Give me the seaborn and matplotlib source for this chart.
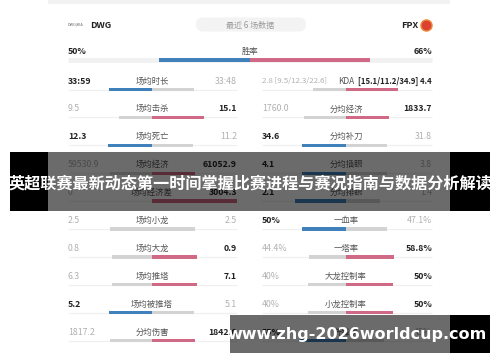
import numpy as np
import pandas as pd
import matplotlib
matplotlib.use("Agg")
import matplotlib.pyplot as plt
from matplotlib.patches import Rectangle, FancyBboxPatch
import seaborn as sns

# ---------------- data ----------------
team_a = "DWG"
team_b = "FPX"
header_text = "最近 6 场数据"
winrate_label = "胜率"
winrate_a = 50
winrate_b = 66

left_labels = ["场均时长", "场均击杀", "场均死亡", "场均经济", "场均经济差",
               "场均小龙", "场均大龙", "场均推塔", "场均被推塔", "分均伤害"]
left_a_text = ["33:59", "9.5", "12.3", "59530.9", "0", "2.5", "0.8", "6.3", "5.2", "1817.2"]
left_b_text = ["33:48", "15.1", "11.2", "61052.9", "3004.3", "2.5", "0.9", "7.1", "5.1", "1842.0"]
left_a_val = [33.98, 9.5, 12.3, 59530.9, 0.0, 2.5, 0.8, 6.3, 5.2, 1817.2]
left_b_val = [33.80, 15.1, 11.2, 61052.9, 3004.3, 2.5, 0.9, 7.1, 5.1, 1842.0]

right_labels = ["KDA", "分均经济", "分均补刀", "分均插眼", "分均排眼",
                "一血率", "一塔率", "大龙控制率", "小龙控制率", "先锋率"]
right_a_text = ["2.8 [9.5/12.3/22.6]", "1760.0", "34.6", "4.1", "2.1",
                "50%", "44.4%", "40%", "40%", "55%"]
right_b_text = ["[15.1/11.2/34.9] 4.4", "1833.7", "31.8", "3.8", "1.4",
                "47.1%", "58.8%", "50%", "50%", "45%"]
right_a_val = [2.8, 1760.0, 34.6, 4.1, 2.1, 50, 44.4, 40, 40, 55]
right_b_val = [4.4, 1833.7, 31.8, 3.8, 1.4, 47.1, 58.8, 50, 50, 45]

title_text = "英超联赛最新动态第一时间掌握比赛进程与赛况指南与数据分析解读"
watermark_text = "www.zhg-2026worldcup.com"

# ---------------- style ----------------
sns.set_theme(style="white")
plt.rcParams["font.family"] = ["Noto Sans CJK SC", "DejaVu Sans"]

BLUE = "#2b82cf"
PINK = "#e0587d"
GRAY = "#d3d3d3"
WIN_TXT = "#222222"
LOSE_TXT = "#b0b0b0"
LBL_TXT = "#555555"
palette = {"a": BLUE, "b": PINK, "lose": GRAY}

W, H = 500, 362
fig = plt.figure(figsize=(W / 100, H / 100), dpi=100)
ax = fig.add_axes([0, 0, 1, 1])

ROW0 = 81.0
PITCH = 27.9
BAR_OFF = 8.5
HALF_TOTAL = 85.0
BAR_H = 3.4
n = len(left_labels)
text_y = [ROW0 + PITCH * i for i in range(n)]
bar_y = [t + BAR_OFF for t in text_y]

columns = [
    dict(center=152, x0=68, x1=237, labels=left_labels, at=left_a_text, bt=left_b_text,
         av=left_a_val, bv=left_b_val),
    dict(center=346, x0=262, x1=432, labels=right_labels, at=right_a_text, bt=right_b_text,
         av=right_a_val, bv=right_b_val),
]

# separator lines
for col in columns:
    ax.hlines(bar_y, col["x0"], col["x1"], color="#f0f0f0", lw=0.9, zorder=1)

# bars via seaborn
for col in columns:
    av = np.array(col["av"], float)
    bv = np.array(col["bv"], float)
    tot = av + bv
    la = HALF_TOTAL * av / tot
    lb = HALF_TOTAL * bv / tot
    ka = np.where(av > bv, "a", "lose")
    kb = np.where(bv > av, "b", "lose")
    dfa = pd.DataFrame({"y": bar_y, "w": -la, "k": ka})
    dfb = pd.DataFrame({"y": bar_y, "w": lb, "k": kb})
    for df in (dfa, dfb):
        df = df[df["w"].abs() > 0]
        sns.barplot(data=df, x="w", y="y", hue="k", palette=palette, orient="y",
                    native_scale=True, dodge=False, errorbar=None, legend=False,
                    width=BAR_H / PITCH, left=col["center"], linewidth=0, ax=ax,
                    zorder=2)

# win-rate bar
ax.hlines(60, 68, 432, color="#f1f1f1", lw=3.5, zorder=1)
wr_tot = winrate_a + winrate_b
wr_df = pd.DataFrame({"y": [60.0, 60.0],
                      "w": [-211 * winrate_a / wr_tot, 211 * winrate_b / wr_tot],
                      "k": ["a", "b"]})
sns.barplot(data=wr_df, x="w", y="y", hue="k", palette=palette, orient="y",
            native_scale=True, dodge=False, errorbar=None, legend=False,
            width=3.8, left=250, linewidth=0, ax=ax, zorder=2)

# ---------------- text ----------------
VS = 6.3
LS = 6.0
for col in columns:
    for i in range(n):
        a, b = col["av"][i], col["bv"][i]
        ca, wa = (WIN_TXT, "bold") if a > b else (LOSE_TXT, "normal")
        cb, wb = (WIN_TXT, "bold") if b > a else (LOSE_TXT, "normal")
        fs = 5.6 if "[" in col["at"][i] else VS
        ax.text(col["x0"], text_y[i], col["at"][i], ha="left", va="center",
                fontsize=fs, color=ca, weight=wa, zorder=3)
        ax.text(col["x1"], text_y[i], col["bt"][i], ha="right", va="center",
                fontsize=fs, color=cb, weight=wb, zorder=3)
        ax.text(col["center"], text_y[i], col["labels"][i], ha="center", va="center",
                fontsize=LS, color=LBL_TXT, zorder=3)

# win rate texts
ax.text(68, 51, f"{winrate_a}%", ha="left", va="center", fontsize=VS, weight="bold", color=WIN_TXT)
ax.text(432, 51, f"{winrate_b}%", ha="right", va="center", fontsize=VS, weight="bold", color=WIN_TXT)
ax.text(250, 51, winrate_label, ha="center", va="center", fontsize=LS, color=LBL_TXT)

# header
ax.add_patch(Rectangle((48, 0), 402, 4, color="#f2f2f2", lw=0, zorder=0))
ax.add_patch(FancyBboxPatch((196, 17.5), 110, 14, boxstyle="round,pad=0,rounding_size=7",
                            fc="#f3f3f3", ec="none", zorder=1))
ax.text(250, 25, header_text, ha="center", va="center", fontsize=5.8, color="#9a9a9a", zorder=3)
ax.text(68, 25, "DWG|KIA", ha="left", va="center", fontsize=2.8, color="#666666", zorder=3)
ax.text(90, 25, team_a, ha="left", va="center", fontsize=6.5, weight="bold", color=WIN_TXT, zorder=3)
ax.text(418, 25, team_b, ha="right", va="center", fontsize=6.5, weight="bold", color=WIN_TXT, zorder=3)
ax.plot([426], [25], marker="o", ms=8, color="#d9432f", mec="#f08a3a", mew=1, zorder=3)

# title banner
ax.add_patch(Rectangle((48, 152), 402, 59, color="black", alpha=0.58, lw=0, zorder=10))
ax.add_patch(Rectangle((10, 152), 38, 59, color="black", lw=0, zorder=10))
ax.add_patch(Rectangle((450, 152), 40, 59, color="black", lw=0, zorder=10))
ax.text(250, 184, title_text, ha="center", va="center", fontsize=11.6, weight="bold",
        color="white", zorder=11)

# watermark
ax.add_patch(Rectangle((230, 315), 220, 38, color="black", alpha=0.58, lw=0, zorder=10))
ax.add_patch(Rectangle((450, 315), 40, 38, color="black", lw=0, zorder=10))
ax.text(357, 334, watermark_text, ha="center", va="center", fontsize=11.5, weight="bold",
        color="white", zorder=11, family=["DejaVu Sans"])

ax.set_xlim(0, W)
ax.set_ylim(H, 0)
ax.axis("off")
fig.savefig("out.png", dpi=100, facecolor="white")
